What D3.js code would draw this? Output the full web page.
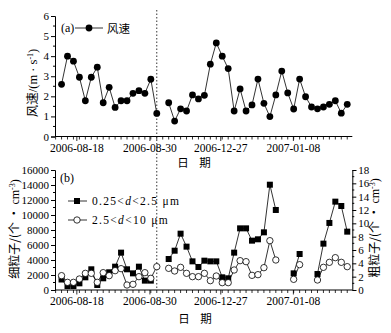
<!DOCTYPE html>
<html><head><meta charset="utf-8">
<script src="https://cdn.jsdelivr.net/npm/d3@7"></script>
<style>
body{margin:0;background:#fff;}
text{font-family:"Liberation Serif","Times New Roman","Noto Sans CJK SC",serif;fill:#000;}
.cjk{font-family:"Noto Sans CJK SC",sans-serif;}
</style></head>
<body><svg id="c" width="391" height="333"></svg>
<script>
// x positions are sample indices (index 17, 37-38, 41-42 are gaps)
const tickLabels = ["2006-08-18","2006-08-30","2006-12-27","2007-01-08"];
const tickIndex = [2.57, 14.85, 26.75, 38.95];
const splitIndex = 16;
const windSpeed = [2.6,4.0,3.75,2.95,1.78,2.95,3.45,1.68,2.45,1.45,1.78,1.78,2.15,2.28,2.15,2.85,1.15,null,
  1.68,0.77,1.38,1.27,2.07,1.87,2.05,3.6,4.66,4.0,3.38,1.27,2.37,1.27,1.57,2.86,1.65,0.99,2.07,3.26,2.17,1.37,2.86,1.98,1.47,1.38,1.47,1.6,1.78,1.16,1.6];
const fine = [1400,530,530,890,1690,2760,670,1560,2360,3110,4980,2760,2220,3110,1250,1250,null,null,
  4130,5240,7510,5780,3820,3070,3910,3820,3820,1690,1560,4980,8220,8220,6580,6760,7690,14040,10670,
  null,null,2220,4800,null,null,2130,6180,8940,11780,11200,7780];
const coarse = [2.15,1.15,1.15,1.65,2.5,2.5,1.15,2.6,2.15,2.9,3.2,0.75,0.85,2.0,2.6,1.75,3.5,null,
  3.25,2.85,3.4,2.5,2.0,2.0,2.5,1.4,2.1,1.1,1.1,3.0,4.4,4.25,2.2,2.3,3.35,7.4,4.5,
  null,null,1.6,3.8,null,null,1.5,3.4,4.15,4.85,4.15,3.5];
const windTicks = [0,1,2,3,4,5,6];
const fineTicks = [0,2000,4000,6000,8000,10000,12000,14000,16000];
const coarseTicks = [0,2,4,6,8,10,12,14,16,18];

const svg = d3.select("#c");
const x = d3.scaleLinear().domain([-1.1, 48.85]).range([55, 352.3]);
const yW = d3.scaleLinear().domain([0,6]).range([136.5,16]);
const yF = d3.scaleLinear().domain([0,16000]).range([290,170]);
const yC = d3.scaleLinear().domain([0,18]).range([290,170]);
const idx = d3.range(windSpeed.length);
const allIdx = d3.range(-1, 49);

function xAxis(yPos){
  const g = svg.append("g").attr("transform",`translate(0,${yPos})`);
  g.append("line").attr("x1",55).attr("x2",352.3).attr("stroke","#000").attr("stroke-width",1);
  allIdx.forEach(i=>{ g.append("line").attr("x1",x(i)).attr("x2",x(i)).attr("y1",0).attr("y2",3).attr("stroke","#000").attr("stroke-width",0.8); });
  tickIndex.forEach((t,k)=>{
    g.append("line").attr("x1",x(t)).attr("x2",x(t)).attr("y1",0).attr("y2",4.5).attr("stroke","#000").attr("stroke-width",0.8);
    g.append("text").attr("x",x(t)).attr("y",15).attr("text-anchor","middle").attr("font-size",11.5).text(tickLabels[k]);
  });
}
function yAxisLeft(scale, ticks, minorStep){
  const g = svg.append("g").attr("transform","translate(55,0)");
  const ax = d3.axisLeft(scale).tickValues(ticks).tickSize(4).tickPadding(2).tickFormat(d3.format("d"));
  g.call(ax);
  g.select(".domain").attr("stroke-width",1);
  g.selectAll("text").attr("font-size",11).attr("font-family","Liberation Serif");
  const [a,b]=scale.domain();
  for(let v=a+minorStep; v<b; v+=minorStep*2){
    g.append("line").attr("x1",-2).attr("x2",0).attr("y1",scale(v)).attr("y2",scale(v)).attr("stroke","#000");
  }
}
function yAxisRight(scale, ticks, minorStep){
  const g = svg.append("g").attr("transform","translate(352.3,0)");
  g.call(d3.axisRight(scale).tickValues(ticks).tickSize(4).tickPadding(2));
  g.select(".domain").attr("stroke-width",1);
  g.selectAll("text").attr("font-size",11).attr("font-family","Liberation Serif");
  const [a,b]=scale.domain();
  for(let v=a+minorStep; v<b; v+=minorStep*2){
    g.append("line").attr("x1",0).attr("x2",2).attr("y1",scale(v)).attr("y2",scale(v)).attr("stroke","#000");
  }
}

// dashed separator
svg.append("line").attr("x1",x(splitIndex)).attr("x2",x(splitIndex)).attr("y1",10).attr("y2",290)
  .attr("stroke","#000").attr("stroke-width",0.8).attr("stroke-dasharray","1.5,2");

// ----- panel (a)
yAxisLeft(yW, windTicks, 0.5);
xAxis(136.5);
const lineW = d3.line().defined(d=>windSpeed[d]!=null).x(d=>x(d)).y(d=>yW(windSpeed[d]));
svg.append("path").attr("d",lineW(idx)).attr("fill","none").attr("stroke","#000").attr("stroke-width",0.8);
svg.append("g").selectAll("circle").data(idx.filter(i=>windSpeed[i]!=null)).join("circle")
  .attr("cx",d=>x(d)).attr("cy",d=>yW(windSpeed[d])).attr("r",3.4).attr("fill","#000");
svg.append("text").attr("x",61).attr("y",32).attr("font-size",12).text("(a)");
svg.append("line").attr("x1",75).attr("x2",103).attr("y1",28).attr("y2",28).attr("stroke","#000").attr("stroke-width",0.8);
svg.append("circle").attr("cx",89).attr("cy",28).attr("r",3.4).attr("fill","#000");
svg.append("text").attr("class","cjk").attr("x",107).attr("y",32.5).attr("font-size",11.5).text("风速");
svg.append("text").attr("transform","translate(37,83) rotate(-90)").attr("text-anchor","middle").attr("font-size",12.5)
  .html('<tspan class="cjk">风速</tspan>/(m · s<tspan dy="-4" font-size="8">-1</tspan><tspan dy="4">)</tspan>');
svg.append("text").attr("class","cjk").attr("x",194).attr("y",167).attr("text-anchor","middle").attr("font-size",11.5).attr("xml:space","preserve").text("日    期");

// ----- panel (b)
yAxisLeft(yF, fineTicks, 1000);
yAxisRight(yC, coarseTicks, 1);
xAxis(290);
const lineF = d3.line().defined(d=>fine[d]!=null).x(d=>x(d)).y(d=>yF(fine[d]));
const lineC = d3.line().defined(d=>coarse[d]!=null).x(d=>x(d)).y(d=>yC(coarse[d]));
svg.append("path").attr("d",lineF(idx)).attr("fill","none").attr("stroke","#000").attr("stroke-width",0.8);
svg.append("path").attr("d",lineC(idx)).attr("fill","none").attr("stroke","#000").attr("stroke-width",0.8);
svg.append("g").selectAll("rect").data(idx.filter(i=>fine[i]!=null)).join("rect")
  .attr("x",d=>x(d)-3).attr("y",d=>yF(fine[d])-3).attr("width",6).attr("height",6).attr("fill","#000");
svg.append("g").selectAll("circle").data(idx.filter(i=>coarse[i]!=null)).join("circle")
  .attr("cx",d=>x(d)).attr("cy",d=>yC(coarse[d])).attr("r",3.2).attr("fill","#fff").attr("stroke","#000").attr("stroke-width",0.8);
svg.append("text").attr("x",60).attr("y",182).attr("font-size",12).text("(b)");
svg.append("line").attr("x1",68).attr("x2",87).attr("y1",201).attr("y2",201).attr("stroke","#000").attr("stroke-width",0.8);
svg.append("rect").attr("x",74).attr("y",198).attr("width",6).attr("height",6).attr("fill","#000");
svg.append("text").attr("x",92).attr("y",205).attr("font-size",11.5).attr("letter-spacing",1.3)
  .html('0.25&lt;<tspan font-style="italic">d</tspan>&lt;2.5 μm');
svg.append("line").attr("x1",68).attr("x2",87).attr("y1",220).attr("y2",220).attr("stroke","#000").attr("stroke-width",0.8);
svg.append("circle").attr("cx",77).attr("cy",220).attr("r",3.2).attr("fill","#fff").attr("stroke","#000").attr("stroke-width",0.8);
svg.append("text").attr("x",92).attr("y",224).attr("font-size",11.5).attr("letter-spacing",1.3)
  .html('2.5&lt;<tspan font-style="italic">d</tspan>&lt;10 μm');
svg.append("text").attr("transform","translate(19,229) rotate(-90)").attr("text-anchor","middle").attr("font-size",12)
  .html('<tspan class="cjk">细粒子/(个 · </tspan>cm<tspan dy="-4" font-size="8">-3</tspan><tspan dy="4">)</tspan>');
svg.append("text").attr("transform","translate(379,228) rotate(-90)").attr("text-anchor","middle").attr("font-size",12)
  .html('<tspan class="cjk">粗粒子/(个 · </tspan>cm<tspan dy="-4" font-size="8">-3</tspan><tspan dy="4">)</tspan>');
svg.append("text").attr("class","cjk").attr("x",195).attr("y",323).attr("text-anchor","middle").attr("font-size",11.5).attr("xml:space","preserve").text("日    期");
</script></body></html>
